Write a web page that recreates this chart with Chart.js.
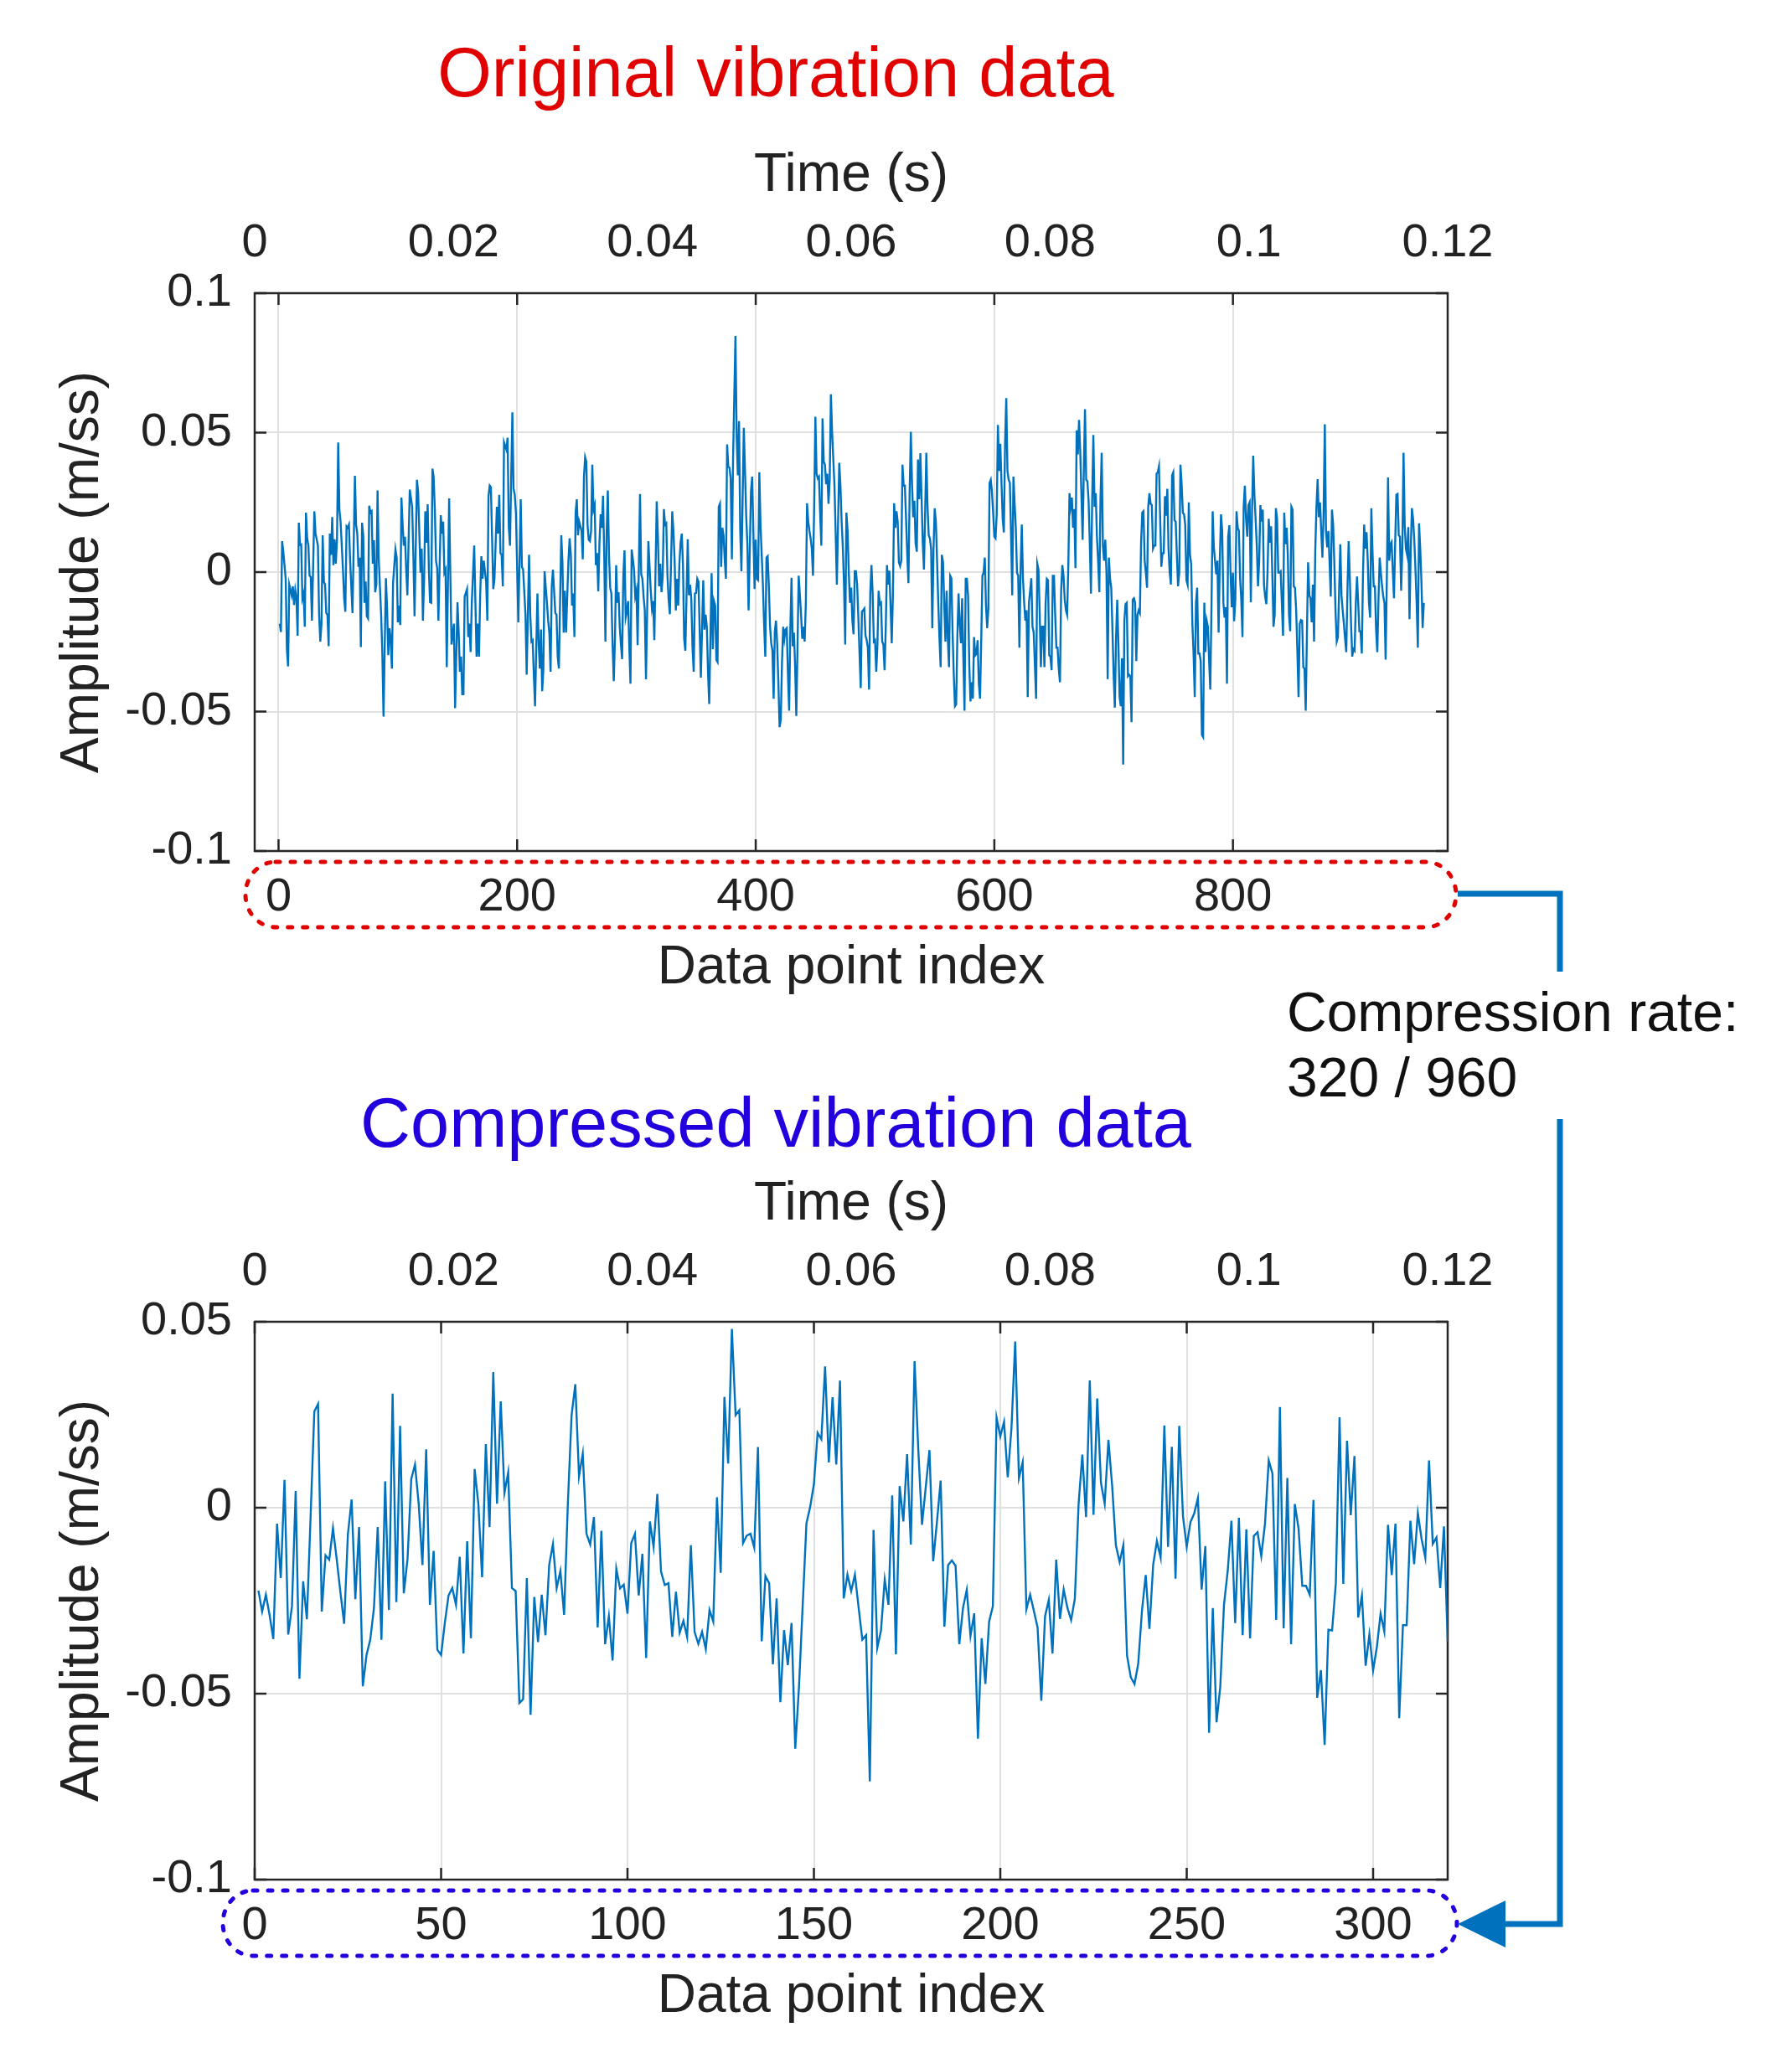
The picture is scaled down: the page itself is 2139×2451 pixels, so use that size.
<!DOCTYPE html>
<html>
<head>
<meta charset="utf-8">
<title>Original vs compressed vibration data</title>
<script src="https://cdn.jsdelivr.net/npm/chart.js@4.4.1/dist/chart.umd.min.js"></script>
<style>
  html, body { margin: 0; padding: 0; background: #fff; }
  body { width: 2139px; height: 2451px; position: relative; overflow: hidden;
         font-family: "Liberation Sans", Arial, Helvetica, sans-serif; }
  canvas { position: absolute; left: 0; }
  .label { position: absolute; white-space: nowrap; line-height: 1; }
  .title { font-size: 83px; transform: translate(-50%, -50%); }
  .note { font-size: 66px; color: #111; transform: translateY(-50%); }
  svg { position: absolute; left: 0; top: 0; }
</style>
</head>
<body>
<div class="label title" style="left:926px;top:86px;color:#e00000">Original vibration data</div>
<div class="label title" style="left:926px;top:1340px;color:#2200dd">Compressed vibration data</div>

<canvas id="origChart" width="2139" height="1220" style="top:0"></canvas>
<canvas id="compChart" width="2139" height="1220" style="top:1228px"></canvas>

<div class="label note" style="left:1536px;top:1208px">Compression rate:</div>
<div class="label note" style="left:1536px;top:1286px">320 / 960</div>

<svg width="2139" height="2451">
  <rect x="293" y="1029" width="1445" height="78" rx="36" ry="39" fill="none"
        stroke="#e00000" stroke-width="5" stroke-dasharray="5 13" stroke-linecap="round"/>
  <rect x="266" y="2257" width="1473" height="78" rx="36" ry="39" fill="none"
        stroke="#2200dd" stroke-width="5" stroke-dasharray="5 13" stroke-linecap="round"/>
  <polyline points="1740,1067 1862,1067 1862,1160" fill="none" stroke="#0072bd" stroke-width="7"/>
  <polyline points="1862,1336 1862,2297 1790,2297" fill="none" stroke="#0072bd" stroke-width="7"/>
  <polygon points="1740,2297 1797,2269 1797,2325" fill="#0072bd"/>
</svg>

<script>
// tick labels
const timeTicks = [0, 0.02, 0.04, 0.06, 0.08, 0.1, 0.12];
const origIndexTicks = [0, 200, 400, 600, 800];
const compIndexTicks = [0, 50, 100, 150, 200, 250, 300];
const origAmpTicks = [-0.1, -0.05, 0, 0.05, 0.1];
const compAmpTicks = [-0.1, -0.05, 0, 0.05];

// original signal, samples 1..960 (null = not read from the picture)
const origAmplitude = [
  -0.0185,-0.0215,0.0111,0.0073,null,-0.0024,-0.0276,-0.0338,-0.0045,null,
  -0.0083,-0.0051,-0.0118,-0.0065,-0.0094,-0.0228,0.0177,0.0097,0.0099,-0.0094,
  -0.0077,-0.0196,0.0213,0.0121,0.0095,-0.0013,-0.0018,-0.0174,null,0.0218,
  0.0138,null,0.0095,-0.0153,-0.0249,-0.0185,0.0132,-0.0034,-0.0045,-0.0147,
  -0.0153,-0.0266,0.0138,0.0062,0.0197,0.0025,0.0118,0.0030,0.0116,0.0465,
  0.0224,0.0181,null,0.0009,-0.0094,-0.0142,0.0164,0.0159,0.0170,0.0041,
  null,-0.0147,null,0.0345,0.0170,0.0138,0.0019,0.0052,-0.0269,0.0177,
  0.0132,-0.0110,-0.0034,-0.0158,-0.0166,0.0238,0.0213,0.0218,0.0030,0.0114,
  -0.0072,-0.0045,0.0293,0.0046,null,-0.0153,-0.0292,-0.0518,null,-0.0022,
  -0.0131,-0.0298,-0.0201,-0.0239,-0.0346,-0.0038,null,0.0081,0.0052,-0.0180,
  -0.0120,-0.0190,0.0267,0.0170,0.0095,0.0127,0.0009,-0.0083,null,0.0296,
  null,0.0234,0.0062,-0.0158,null,0.0331,0.0288,null,-0.0002,0.0084,
  -0.0174,-0.0029,0.0218,0.0105,0.0243,0.0009,-0.0108,-0.0110,0.0371,0.0342,
  0.0224,0.0041,0.0014,-0.0174,null,0.0204,0.0138,0.0181,-0.0002,0.0009,
  -0.0341,null,0.0264,-0.0013,-0.0260,null,-0.0185,-0.0488,null,-0.0108,
  -0.0217,-0.0357,-0.0303,-0.0438,-0.0438,-0.0088,null,-0.0061,-0.0233,-0.0185,
  -0.0287,-0.0110,null,0.0095,null,-0.0303,-0.0185,-0.0303,-0.0088,0.0057,
  -0.0024,0.0041,null,-0.0034,-0.0174,0.0272,0.0310,0.0304,null,-0.0061,
  -0.0024,null,0.0234,0.0138,0.0277,0.0068,0.0062,-0.0051,0.0465,null,
  0.0439,0.0482,0.0159,0.0095,null,0.0573,0.0299,0.0277,0.0213,null,
  -0.0180,null,0.0261,0.0019,0.0009,null,-0.0153,-0.0368,null,0.0062,
  -0.0153,-0.0249,-0.0244,-0.0368,-0.0481,null,-0.0077,-0.0249,-0.0346,-0.0206,
  -0.0427,-0.0346,0.0003,-0.0056,-0.0110,-0.0174,-0.0217,-0.0357,-0.0054,0.0009,
  null,-0.0147,-0.0153,-0.0303,-0.0346,null,0.0132,0.0030,-0.0217,-0.0067,
  -0.0217,null,0.0041,0.0121,0.0062,-0.0120,-0.0077,-0.0233,0.0213,0.0261,
  0.0132,0.0181,null,0.0148,0.0046,0.0342,0.0412,0.0396,0.0170,0.0116,
  0.0111,0.0148,0.0385,0.0224,0.0240,0.0025,0.0068,-0.0069,0.0105,0.0207,
  0.0159,0.0274,0.0062,-0.0249,0.0138,0.0293,0.0062,-0.0056,-0.0077,-0.0260,
  -0.0391,-0.0239,0.0025,-0.0110,-0.0072,-0.0196,-0.0260,-0.0312,-0.0013,0.0078,
  -0.0163,-0.0142,-0.0104,-0.0266,-0.0400,0.0081,0.0046,0.0009,-0.0086,-0.0065,
  -0.0262,null,0.0280,-0.0008,-0.0024,-0.0088,-0.0137,-0.0384,null,0.0111,
  0.0019,-0.0067,-0.0131,-0.0104,-0.0244,null,0.0254,0.0127,-0.0051,0.0030,
  -0.0072,-0.0018,0.0226,0.0170,0.0175,-0.0013,-0.0099,-0.0151,null,0.0218,
  0.0148,0.0041,-0.0137,-0.0024,-0.0120,0.0030,0.0105,0.0138,0.0025,-0.0239,
  -0.0282,null,0.0118,-0.0083,-0.0045,-0.0099,-0.0271,-0.0357,-0.0077,-0.0075,
  -0.0024,-0.0034,-0.0206,-0.0378,null,-0.0029,-0.0206,-0.0153,-0.0196,-0.0357,
  -0.0473,null,-0.0004,-0.0276,-0.0104,-0.0120,-0.0314,-0.0322,0.0234,0.0245,
  0.0019,0.0159,0.0132,0.0046,-0.0024,0.0458,0.0379,0.0374,0.0336,0.0046,
  0.0406,null,0.0847,0.0492,0.0347,0.0541,0.0148,0.0003,null,0.0517,
  0.0363,0.0202,0.0100,-0.0137,null,0.0288,0.0342,0.0148,-0.0061,0.0116,
  -0.0024,-0.0029,0.0358,0.0170,0.0062,-0.0045,-0.0185,-0.0303,0.0052,0.0057,
  -0.0051,-0.0196,-0.0255,-0.0282,-0.0454,-0.0212,-0.0174,-0.0260,-0.0400,-0.0556,
  -0.0529,-0.0325,-0.0196,-0.0239,-0.0206,-0.0201,-0.0368,-0.0497,-0.0201,-0.0020,
  -0.0266,-0.0217,-0.0335,-0.0516,-0.0271,-0.0013,-0.0083,-0.0153,-0.0239,-0.0196,
  -0.0249,-0.0110,0.0247,0.0181,0.0148,0.0121,0.0084,-0.0013,0.0240,0.0557,
  0.0353,0.0336,0.0342,0.0207,0.0095,0.0551,0.0396,0.0385,0.0315,0.0353,
  0.0245,0.0331,0.0637,0.0503,0.0406,0.0310,0.0138,-0.0045,null,0.0392,
  0.0310,0.0181,0.0089,-0.0045,-0.0260,0.0213,0.0148,-0.0002,-0.0110,-0.0056,
  -0.0174,-0.0223,0.0003,0.0003,-0.0045,-0.0163,null,-0.0416,-0.0142,-0.0137,
  -0.0131,-0.0228,-0.0244,-0.0271,-0.0421,-0.0077,0.0025,-0.0077,-0.0249,-0.0244,
  -0.0357,-0.0260,-0.0067,-0.0115,-0.0110,-0.0249,-0.0260,-0.0352,-0.0196,0.0025,
  -0.0045,0.0005,-0.0120,-0.0255,-0.0077,0.0247,0.0159,0.0218,0.0181,0.0035,
  0.0022,0.0041,0.0385,0.0310,0.0310,0.0191,0.0062,-0.0040,0.0283,0.0503,
  0.0320,0.0197,0.0256,0.0105,0.0073,0.0404,0.0261,0.0426,0.0267,0.0105,
  0.0009,0.0213,0.0428,0.0234,0.0132,0.0121,0.0084,-0.0201,0.0078,0.0229,
  0.0181,0.0041,-0.0110,-0.0239,-0.0341,0.0062,0.0035,-0.0110,-0.0249,-0.0067,
  -0.0239,-0.0341,-0.0013,-0.0022,-0.0217,-0.0368,-0.0481,-0.0475,-0.0233,-0.0077,
  -0.0185,-0.0255,-0.0094,-0.0303,-0.0497,-0.0024,-0.0024,-0.0088,-0.0335,-0.0464,
  -0.0395,-0.0454,-0.0233,-0.0298,-0.0292,-0.0244,-0.0400,-0.0454,-0.0249,-0.0013,
  -0.0002,0.0052,-0.0120,-0.0201,-0.0131,0.0320,0.0331,0.0288,0.0213,0.0127,
  0.0121,0.0207,0.0528,0.0363,0.0460,0.0320,0.0191,0.0142,0.0465,0.0624,
  0.0363,0.0331,0.0320,0.0138,-0.0083,0.0342,0.0245,0.0159,-0.0002,-0.0013,
  -0.0271,0.0009,0.0170,-0.0024,-0.0110,-0.0174,-0.0137,-0.0448,-0.0110,-0.0067,
  -0.0022,-0.0196,-0.0217,null,-0.0454,0.0030,0.0009,-0.0142,-0.0341,-0.0196,
  -0.0196,-0.0341,-0.0110,-0.0024,-0.0029,-0.0298,-0.0303,-0.0352,-0.0013,-0.0013,
  -0.0153,-0.0271,-0.0271,-0.0346,-0.0395,-0.0067,0.0025,-0.0013,-0.0099,-0.0137,
  -0.0153,0.0019,0.0283,0.0234,0.0267,0.0159,0.0226,0.0014,0.0508,0.0422,
  0.0546,0.0433,0.0277,0.0116,0.0363,0.0584,0.0331,0.0326,0.0256,0.0105,
  -0.0077,0.0256,0.0492,0.0234,0.0283,0.0127,0.0041,-0.0072,0.0267,0.0428,
  0.0095,0.0041,0.0116,-0.0002,-0.0384,0.0052,-0.0024,-0.0056,-0.0206,-0.0368,
  -0.0486,-0.0239,-0.0099,-0.0260,-0.0448,-0.0481,-0.0309,-0.0690,-0.0174,-0.0115,
  -0.0110,-0.0373,-0.0368,-0.0373,-0.0538,-0.0099,-0.0094,-0.0110,-0.0319,-0.0153,
  -0.0137,-0.0147,0.0105,0.0213,0.0218,0.0041,-0.0002,-0.0056,0.0234,0.0283,
  0.0245,0.0240,0.0084,0.0095,0.0095,0.0353,0.0358,0.0379,0.0191,0.0019,
  0.0068,0.0068,0.0272,0.0202,0.0299,0.0084,-0.0002,-0.0045,0.0347,0.0358,
  0.0186,0.0181,0.0062,-0.0051,-0.0002,0.0385,0.0315,0.0213,0.0207,0.0170,
  -0.0029,-0.0045,0.0250,0.0062,0.0030,-0.0185,-0.0292,-0.0448,-0.0110,-0.0056,
  -0.0292,-0.0292,-0.0319,-0.0583,-0.0591,-0.0110,-0.0287,-0.0174,-0.0196,-0.0314,
  -0.0421,-0.0131,0.0218,0.0089,0.0041,-0.0008,0.0041,-0.0217,0.0041,0.0207,
  0.0148,-0.0110,-0.0163,-0.0126,-0.0400,0.0127,0.0168,-0.0002,-0.0126,-0.0002,
  -0.0176,-0.0099,0.0218,0.0159,0.0148,-0.0024,-0.0099,-0.0233,0.0234,0.0310,
  0.0191,0.0127,0.0240,0.0250,-0.0108,0.0213,0.0417,0.0277,0.0191,0.0095,
  -0.0051,0.0041,0.0240,0.0181,0.0224,-0.0045,-0.0088,-0.0115,-0.0002,0.0191,
  0.0105,0.0164,-0.0002,-0.0196,-0.0153,0.0229,0.0191,-0.0002,-0.0002,0.0003,
  -0.0110,-0.0228,0.0213,0.0100,0.0159,0.0062,-0.0153,-0.0212,0.0234,0.0224,
  -0.0051,-0.0056,-0.0137,-0.0282,-0.0448,-0.0185,-0.0172,-0.0174,-0.0341,-0.0346,
  -0.0497,-0.0228,0.0035,-0.0083,-0.0094,-0.0180,-0.0045,-0.0249,0.0073,0.0234,
  0.0333,0.0197,0.0250,0.0148,0.0052,0.0213,0.0530,0.0148,0.0089,0.0148,
  0.0035,-0.0088,0.0224,0.0170,0.0030,-0.0142,-0.0249,-0.0233,-0.0067,0.0100,
  -0.0083,-0.0137,-0.0185,-0.0239,-0.0287,-0.0061,0.0111,-0.0024,-0.0185,-0.0303,
  -0.0276,-0.0282,-0.0110,-0.0016,-0.0110,-0.0212,-0.0212,-0.0292,-0.0013,0.0170,
  0.0084,0.0143,0.0041,-0.0110,-0.0163,0.0229,0.0073,-0.0051,-0.0051,-0.0206,
  -0.0287,-0.0099,0.0052,-0.0002,-0.0051,-0.0088,-0.0110,-0.0314,-0.0024,0.0339,
  0.0041,0.0100,0.0108,0.0003,-0.0094,0.0105,0.0277,0.0280,0.0132,0.0127,
  -0.0067,0.0084,0.0428,0.0164,0.0084,0.0062,0.0161,-0.0169,0.0073,0.0229,
  0.0191,0.0116,0.0009,-0.0110,-0.0271,0.0175,0.0084,-0.0034,-0.0200,-0.0110
];

// compressed signal, samples 1..320
const compAmplitude = [
  -0.0223,-0.0279,-0.0234,-0.0289,-0.0353,-0.0043,-0.0189,0.0075,-0.0341,-0.0265,
  0.0045,-0.0460,-0.0198,-0.0300,-0.0023,0.0259,0.0279,-0.0279,-0.0128,-0.0140,
  -0.0055,-0.0138,-0.0228,-0.0312,-0.0072,0.0022,-0.0246,-0.0052,-0.0480,-0.0396,
  -0.0355,-0.0269,-0.0052,-0.0355,0.0071,-0.0275,0.0307,-0.0254,0.0220,-0.0230,
  -0.0138,0.0077,0.0116,0.0010,-0.0154,0.0157,-0.0261,-0.0116,-0.0382,-0.0396,
  -0.0310,-0.0236,-0.0216,-0.0261,-0.0132,-0.0392,-0.0090,-0.0351,0.0104,0.0010,
  -0.0187,0.0171,-0.0052,0.0365,0.0011,0.0286,0.0040,0.0095,-0.0216,-0.0224,
  -0.0525,-0.0515,-0.0189,-0.0557,-0.0240,-0.0361,-0.0234,-0.0343,-0.0154,-0.0098,
  -0.0216,-0.0170,-0.0288,0.0010,0.0248,0.0332,0.0085,0.0145,-0.0070,-0.0099,
  -0.0025,-0.0322,-0.0062,-0.0367,-0.0292,-0.0411,-0.0164,-0.0217,-0.0207,-0.0285,
  -0.0095,-0.0070,-0.0236,-0.0124,-0.0404,-0.0037,-0.0105,0.0037,-0.0172,-0.0208,
  -0.0203,-0.0347,-0.0226,-0.0336,-0.0304,-0.0348,-0.0101,-0.0334,-0.0366,-0.0334,
  -0.0380,-0.0275,-0.0306,0.0028,-0.0175,0.0298,0.0119,0.0481,0.0249,0.0262,
  -0.0095,-0.0075,-0.0070,-0.0107,0.0163,-0.0359,-0.0184,-0.0203,-0.0421,-0.0244,
  -0.0523,-0.0329,-0.0423,-0.0310,-0.0648,-0.0482,-0.0261,-0.0042,0.0002,0.0063,
  0.0201,0.0184,0.0380,0.0122,0.0297,0.0116,0.0342,-0.0244,-0.0180,-0.0224,
  -0.0180,-0.0269,-0.0355,-0.0343,-0.0736,-0.0060,-0.0377,-0.0330,-0.0193,-0.0261,
  0.0033,-0.0394,0.0058,-0.0037,0.0144,-0.0099,0.0394,0.0157,-0.0046,0.0055,
  0.0155,-0.0144,-0.0039,0.0073,-0.0320,-0.0154,-0.0142,-0.0156,-0.0367,-0.0269,
  -0.0221,-0.0345,-0.0284,-0.0621,-0.0351,-0.0474,-0.0306,-0.0265,0.0242,0.0192,
  0.0231,0.0082,0.0215,0.0447,0.0080,0.0122,-0.0273,-0.0234,-0.0277,-0.0322,
  -0.0519,-0.0292,-0.0248,-0.0392,-0.0140,-0.0299,-0.0220,-0.0269,-0.0302,-0.0244,
  0.0010,0.0143,-0.0025,0.0342,-0.0019,0.0294,0.0067,0.0011,0.0182,0.0059,
  -0.0101,-0.0146,-0.0101,-0.0398,-0.0456,-0.0474,-0.0419,-0.0277,-0.0181,-0.0326,
  -0.0154,-0.0090,-0.0134,0.0221,-0.0105,0.0164,-0.0191,0.0220,-0.0023,-0.0105,
  -0.0039,-0.0016,0.0026,-0.0220,-0.0103,-0.0605,-0.0270,-0.0577,-0.0482,-0.0261,
  -0.0170,-0.0035,-0.0310,-0.0027,-0.0343,-0.0058,-0.0351,-0.0076,-0.0066,-0.0130,
  -0.0043,0.0127,0.0092,-0.0302,0.0271,-0.0324,0.0080,-0.0367,0.0010,-0.0056,
  -0.0210,-0.0210,-0.0234,0.0021,-0.0511,-0.0437,-0.0638,-0.0328,-0.0330,-0.0203,
  0.0243,-0.0205,0.0180,-0.0020,0.0139,-0.0295,-0.0236,-0.0425,-0.0341,-0.0437,
  -0.0375,-0.0285,-0.0333,-0.0046,-0.0181,-0.0043,-0.0566,-0.0316,-0.0316,-0.0035,
  -0.0152,-0.0015,-0.0084,-0.0134,0.0127,-0.0097,-0.0080,-0.0216,-0.0050,-0.0359
];

const fontFamily = '"Liberation Sans", Arial, Helvetica, sans-serif';
const tickFont = { family: fontFamily, size: 56 };
const titleFont = { family: fontFamily, size: 64 };
const inkColor = '#222222';
const gridColor = '#e0e0e0';

function fmt(v) {
    return String(Number(v.toFixed(4)));
}

// box round the plot area plus MATLAB style inward ticks
const framePlugin = {
    id: 'frame',
    beforeDatasetsDraw(chart) {
        const { ctx, chartArea: a, scales } = chart;
        const len = 14;
        ctx.save();
        ctx.strokeStyle = '#262626';
        ctx.lineWidth = 2.5;
        ctx.beginPath();
        scales.x.ticks.forEach(t => {
            const px = scales.x.getPixelForValue(t.value);
            ctx.moveTo(px, a.bottom); ctx.lineTo(px, a.bottom - len);
            ctx.moveTo(px, a.top); ctx.lineTo(px, a.top + len);
        });
        scales.y.ticks.forEach(t => {
            const py = scales.y.getPixelForValue(t.value);
            ctx.moveTo(a.left, py); ctx.lineTo(a.left + len, py);
            ctx.moveTo(a.right, py); ctx.lineTo(a.right - len, py);
        });
        ctx.stroke();
        ctx.strokeRect(a.left, a.top, a.right - a.left, a.bottom - a.top);
        ctx.restore();
    }
};

function makeChart(canvasId, amplitude, idxMin, idxMax, idxTicks, ampMin, ampMax, ampTicks) {
    const points = amplitude.map((v, k) => ({ x: k + 1, y: v }));
    return new Chart(document.getElementById(canvasId).getContext('2d'), {
        type: 'line',
        data: {
            datasets: [{
                data: points,
                borderColor: '#0072bd',
                borderWidth: 2.4,
                pointRadius: 0,
                tension: 0,
                spanGaps: true,
                xAxisID: 'x',
                yAxisID: 'y'
            }]
        },
        options: {
            responsive: false,
            animation: false,
            devicePixelRatio: 1,
            layout: { padding: { top: 150, right: 411, bottom: 0, left: 0 } },
            plugins: { legend: { display: false }, tooltip: { enabled: false } },
            scales: {
                x: {
                    type: 'linear',
                    position: 'bottom',
                    min: idxMin,
                    max: idxMax,
                    afterBuildTicks: s => { s.ticks = idxTicks.map(v => ({ value: v })); },
                    afterFit: s => { s.height = 204; },
                    grid: { color: gridColor, lineWidth: 2, drawTicks: false },
                    border: { display: false },
                    ticks: { font: tickFont, color: inkColor, padding: 22, maxRotation: 0, autoSkip: false, callback: v => fmt(v) },
                    title: { display: true, text: 'Data point index', font: titleFont, color: inkColor, padding: { top: 0, bottom: 25 } }
                },
                xTime: {
                    type: 'linear',
                    position: 'top',
                    min: 0,
                    max: 0.12,
                    afterBuildTicks: s => { s.ticks = timeTicks.map(v => ({ value: v })); },
                    afterFit: s => { s.height = 200; },
                    grid: { display: false, drawTicks: false },
                    border: { display: false },
                    ticks: { font: tickFont, color: inkColor, padding: 26, maxRotation: 0, autoSkip: false, callback: v => fmt(v) },
                    title: { display: true, text: 'Time (s)', font: titleFont, color: inkColor, padding: { top: 22, bottom: 0 } }
                },
                y: {
                    type: 'linear',
                    position: 'left',
                    min: ampMin,
                    max: ampMax,
                    afterBuildTicks: s => { s.ticks = ampTicks.map(v => ({ value: v })); },
                    afterFit: s => { s.width = 304; },
                    grid: { color: gridColor, lineWidth: 2, drawTicks: false },
                    border: { display: false },
                    ticks: { font: tickFont, color: inkColor, padding: 27, autoSkip: false, callback: v => fmt(v) },
                    title: { display: true, text: 'Amplitude (m/ss)', font: titleFont, color: inkColor, padding: { top: 61, bottom: 0 } }
                }
            }
        },
        plugins: [framePlugin]
    });
}

makeChart('origChart', origAmplitude, -20, 980, origIndexTicks, -0.1, 0.1, origAmpTicks);
makeChart('compChart', compAmplitude, 0, 320, compIndexTicks, -0.1, 0.05, compAmpTicks);
</script>
</body>
</html>
